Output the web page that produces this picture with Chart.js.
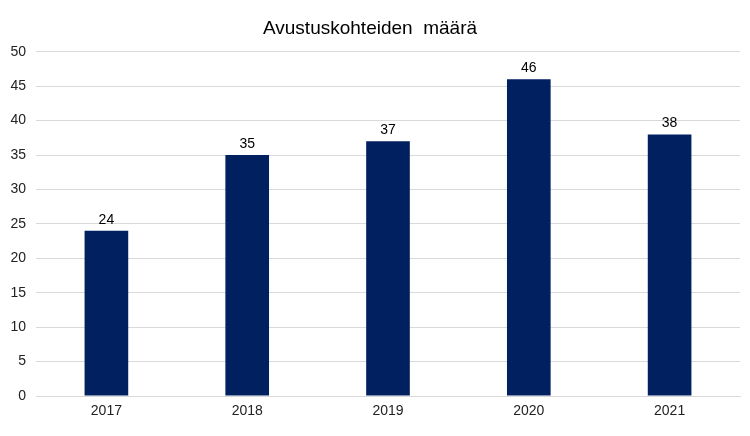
<!DOCTYPE html>
<html>
<head>
<meta charset="utf-8">
<script src="https://cdn.jsdelivr.net/npm/chart.js@4"></script>
<style>
  html, body { margin: 0; padding: 0; background: #fff; }
  #wrap { width: 750px; height: 436px; }
</style>
</head>
<body>
<div id="wrap"><canvas id="chart"></canvas></div>
<script>
var years = ['2017', '2018', '2019', '2020', '2021'];
var counts = [24, 35, 37, 46, 38];
var yTicks = [0, 5, 10, 15, 20, 25, 30, 35, 40, 45, 50];

var FONT = "'Liberation Sans', Arial, sans-serif";

// draws the value above each bar
var valueLabels = {
    id: 'valueLabels',
    afterDatasetsDraw: function(chart) {
        var ctx = chart.ctx;
        var meta = chart.getDatasetMeta(0);
        ctx.save();
        ctx.font = '14px ' + FONT;
        ctx.fillStyle = '#000';
        ctx.textAlign = 'center';
        ctx.textBaseline = 'bottom';
        meta.data.forEach(function(bar, i) {
            ctx.fillText(counts[i], bar.x, bar.y - 4);
        });
        ctx.restore();
    }
};

var ctx = document.getElementById('chart').getContext('2d');

var chart = new Chart(ctx, {
    type: 'bar',
    data: {
        labels: years,
        datasets: [{
            data: counts,
            backgroundColor: '#002060',
            categoryPercentage: 1,
            barPercentage: 0.31
        }]
    },
    options: {
        responsive: true,
        maintainAspectRatio: false,
        animation: false,
        layout: { padding: { left: 0, right: 10, top: 0, bottom: 0 } },
        plugins: {
            legend: { display: false },
            tooltip: { enabled: false },
            title: {
                display: true,
                text: 'Avustuskohteiden  määrä',
                color: '#000',
                font: { family: FONT, size: 19, weight: 'normal' },
                padding: { top: 17, bottom: 12 }
            }
        },
        scales: {
            x: {
                grid: { display: false, drawTicks: false },
                border: { color: '#d9d9d9' },
                ticks: {
                    color: '#222',
                    font: { family: FONT, size: 14 },
                    padding: 7
                },
                afterFit: function(scale) { scale.height = 40; }
            },
            y: {
                min: 0,
                max: 50,
                afterBuildTicks: function(scale) {
                    scale.ticks = yTicks.map(function(v) { return { value: v }; });
                },
                grid: { color: '#d9d9d9', drawTicks: false },
                border: { display: false },
                ticks: {
                    color: '#222',
                    font: { family: FONT, size: 14 },
                    padding: 10
                },
                afterFit: function(scale) { scale.width = 36; }
            }
        }
    },
    plugins: [valueLabels]
});
</script>
</body>
</html>
